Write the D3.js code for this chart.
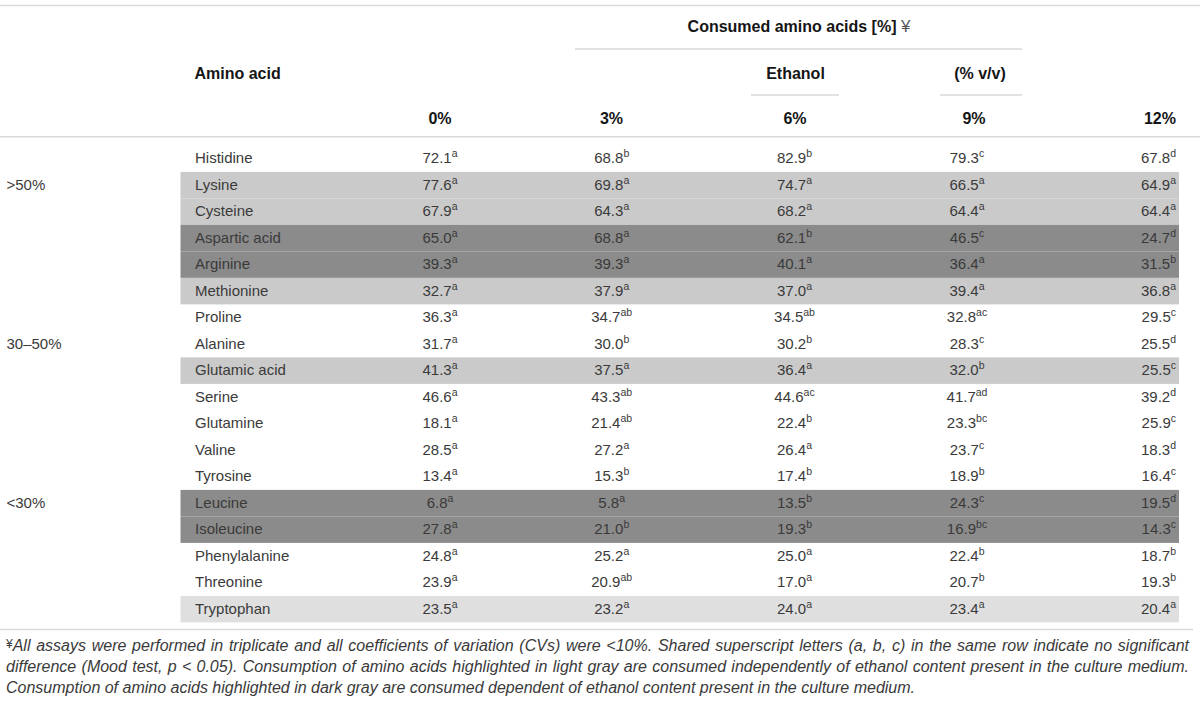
<!DOCTYPE html>
<html>
<head>
<meta charset="utf-8">
<script src="https://cdn.jsdelivr.net/npm/d3@7"></script>
<style>
  html, body { margin: 0; padding: 0; background: #fff; }
  svg { display: block; }
  text { font-family: "Liberation Sans", Arial, Helvetica, sans-serif; }
</style>
</head>
<body>
<svg id="chart" width="1200" height="705"></svg>
<script>
// ---------------- DATA ----------------
const aminoAcids = ["Histidine","Lysine","Cysteine","Aspartic acid","Arginine","Methionine",
  "Proline","Alanine","Glutamic acid","Serine","Glutamine","Valine","Tyrosine",
  "Leucine","Isoleucine","Phenylalanine","Threonine","Tryptophan"];
const concentrations = ["0%","3%","6%","9%","12%"];

const values0  = [72.1,77.6,67.9,65.0,39.3,32.7,36.3,31.7,41.3,46.6,18.1,28.5,13.4,6.8,27.8,24.8,23.9,23.5];
const values3  = [68.8,69.8,64.3,68.8,39.3,37.9,34.7,30.0,37.5,43.3,21.4,27.2,15.3,5.8,21.0,25.2,20.9,23.2];
const values6  = [82.9,74.7,68.2,62.1,40.1,37.0,34.5,30.2,36.4,44.6,22.4,26.4,17.4,13.5,19.3,25.0,17.0,24.0];
const values9  = [79.3,66.5,64.4,46.5,36.4,39.4,32.8,28.3,32.0,41.7,23.3,23.7,18.9,24.3,16.9,22.4,20.7,23.4];
const values12 = [67.8,64.9,64.4,24.7,31.5,36.8,29.5,25.5,25.5,39.2,25.9,18.3,16.4,19.5,14.3,18.7,19.3,20.4];

const letters0  = ["a","a","a","a","a","a","a","a","a","a","a","a","a","a","a","a","a","a"];
const letters3  = ["b","a","a","a","a","a","ab","b","a","ab","ab","a","b","a","b","a","ab","a"];
const letters6  = ["b","a","a","b","a","a","ab","b","a","ac","b","a","b","b","b","a","a","a"];
const letters9  = ["c","a","a","c","a","a","ac","c","b","ad","bc","c","b","c","bc","b","b","a"];
const letters12 = ["d","a","a","d","b","a","c","d","c","d","c","d","c","d","c","b","b","a"];

// highlight class per row: "" none, "L" light gray, "D" dark gray, "P" pale gray
const highlight = ["","L","L","D","D","L","","","L","","","","","D","D","","","P"];

const groupLabels = [">50%","30–50%","<30%"];
const groupRows   = ["Lysine","Alanine","Leucine"];

const headerTitle = "Consumed amino acids [%] ";
const headerMark  = "¥";
const subHeaders  = ["Ethanol","(% v/v)"];
const rowHeader   = "Amino acid";

const footnoteLines = [
  "All assays were performed in triplicate and all coefficients of variation (CVs) were <10%. Shared superscript letters (a, b, c) in the same row indicate no significant",
  "difference (Mood test, p < 0.05). Consumption of amino acids highlighted in light gray are consumed independently of ethanol content present in the culture medium.",
  "Consumption of amino acids highlighted in dark gray are consumed dependent of ethanol content present in the culture medium."
];

// ---------------- LAYOUT ----------------
const svg = d3.select("#chart");
const seriesValues  = [values0, values3, values6, values9, values12];
const seriesLetters = [letters0, letters3, letters6, letters9, letters12];

const y = d3.scaleBand().domain(aminoAcids).range([145.4, 145.4 + 26.5 * aminoAcids.length]).padding(0);
const x = d3.scaleOrdinal().domain(concentrations).range([440, 611.7, 794.5, 967, 1176]);
const xHead = d3.scaleOrdinal().domain(concentrations).range([440, 611.5, 795, 974, 1176]);
const anchorOf = c => c === "12%" ? "end" : "middle";
const fill = d3.scaleOrdinal().domain(["L","D","P"]).range(["#cacaca","#8b8b8b","#dfdfdf"]);
const fmt = d3.format(".1f");

const textColor = "#3a3a3a";
const headColor = "#151515";
const lineColor = "#d9d9d9";

// row highlights
svg.append("g").selectAll("rect")
  .data(aminoAcids.filter((d, i) => highlight[i] !== ""))
  .join("rect")
  .attr("x", 180.5).attr("width", 1179 - 180.5)
  .attr("y", d => y(d)).attr("height", y.bandwidth())
  .attr("fill", d => fill(highlight[aminoAcids.indexOf(d)]));

// rules
const rules = [
  {x1: 0, x2: 1200, y: 5.5},
  {x1: 575, x2: 1022, y: 49},
  {x1: 751, x2: 839, y: 95},
  {x1: 940, x2: 1022, y: 95},
  {x1: 0, x2: 1200, y: 136.7},
  {x1: 0, x2: 1193, y: 629.5}
];
svg.append("g").selectAll("line").data(rules).join("line")
  .attr("x1", d => d.x1).attr("x2", d => d.x2)
  .attr("y1", d => d.y).attr("y2", d => d.y)
  .attr("stroke", lineColor).attr("stroke-width", 1.6);

// headers
const hdr = svg.append("g").attr("font-weight", "bold").attr("font-size", 16).attr("fill", headColor);
const t = hdr.append("text").attr("x", 799).attr("y", 31.5).attr("text-anchor", "middle");
t.append("tspan").text(headerTitle);
t.append("tspan").attr("font-weight", "normal").attr("font-size", 17).attr("fill", "#555").text(headerMark);
hdr.append("text").attr("x", 795.5).attr("y", 78.5).attr("text-anchor", "middle").text(subHeaders[0]);
hdr.append("text").attr("x", 980).attr("y", 78.5).attr("text-anchor", "middle").text(subHeaders[1]);
hdr.append("text").attr("x", 194.5).attr("y", 78.5).text(rowHeader);
hdr.selectAll("text.conc").data(concentrations).join("text").attr("class", "conc")
  .attr("x", d => xHead(d)).attr("y", 124).attr("text-anchor", anchorOf).text(d => d);

// body
const body = svg.append("g").attr("font-size", 15).attr("fill", textColor);
const baseY = d => y(d) + y.bandwidth() / 2 + 4.8;

body.selectAll("text.name").data(aminoAcids).join("text").attr("class", "name")
  .attr("x", 195).attr("y", baseY).text(d => d);

body.selectAll("text.group").data(groupLabels).join("text").attr("class", "group")
  .attr("x", 6.5).attr("y", (d, i) => baseY(groupRows[i])).text(d => d);

concentrations.forEach((c, ci) => {
  const cells = body.selectAll("text.c" + ci).data(aminoAcids).join("text").attr("class", "c" + ci)
    .attr("x", x(c)).attr("y", baseY).attr("text-anchor", anchorOf(c));
  cells.append("tspan").text((d, i) => fmt(seriesValues[ci][i]));
  cells.append("tspan").attr("font-size", 10.5).attr("dy", -6).text((d, i) => seriesLetters[ci][i]);
});

// footnote
const foot = svg.append("g").attr("font-size", 16).attr("fill", textColor);
const footY = [651, 672.2, 693.4];
footnoteLines.forEach((line, li) => {
  const tx = foot.append("text").attr("x", 6).attr("y", footY[li]);
  if (li === 0) {
    tx.append("tspan").attr("font-size", 12).attr("dy", -3).text(headerMark);
    tx.append("tspan").attr("font-style", "italic").attr("dy", 3).text(line);
  } else {
    tx.append("tspan").attr("font-style", "italic").text(line);
  }
  if (li < 2) {
    const target = 1189 - 6;
    const len = tx.node().getComputedTextLength();
    const spaces = (line.match(/ /g) || []).length;
    if (spaces > 0) tx.attr("word-spacing", (target - len) / spaces);
  }
});
</script>
</body>
</html>
